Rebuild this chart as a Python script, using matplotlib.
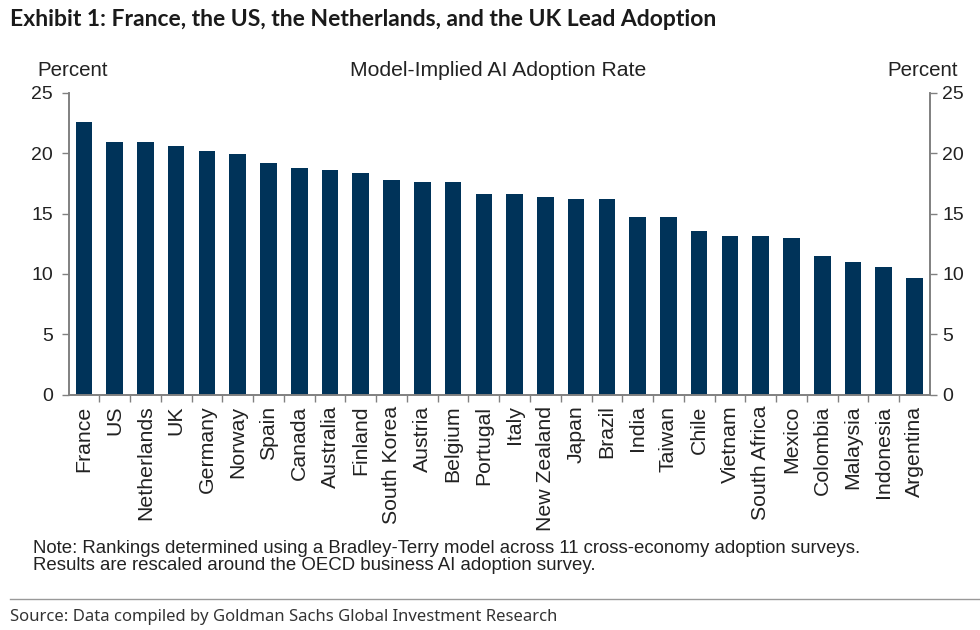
import matplotlib
matplotlib.use('Agg')
import matplotlib.pyplot as plt
import numpy as np

# Model-implied AI adoption rate (percent)
countries = ['France', 'US', 'Netherlands', 'UK', 'Germany', 'Norway', 'Spain',
             'Canada', 'Australia', 'Finland', 'South Korea', 'Austria', 'Belgium',
             'Portugal', 'Italy', 'New Zealand', 'Japan', 'Brazil', 'India', 'Taiwan',
             'Chile', 'Vietnam', 'South Africa', 'Mexico', 'Colombia', 'Malaysia',
             'Indonesia', 'Argentina']
adoption = [22.6, 20.9, 20.9, 20.6, 20.2, 19.95, 19.2,
            18.8, 18.6, 18.35, 17.8, 17.65, 17.65,
            16.65, 16.65, 16.4, 16.25, 16.25, 14.7, 14.7,
            13.55, 13.15, 13.15, 13.0, 11.45, 11.0,
            10.6, 9.7]
y_ticks = [0, 5, 10, 15, 20, 25]

title = 'Exhibit 1: France, the US, the Netherlands, and the UK Lead Adoption'
chart_title = 'Model-Implied AI Adoption Rate'
note = ('Note: Rankings determined using a Bradley-Terry model across 11 cross-economy adoption surveys.\n'
        'Results are rescaled around the OECD business AI adoption survey.')
source = 'Source: Data compiled by Goldman Sachs Global Investment Research'

bar_color = '#003359'
axis_color = '#808080'
text_color = '#222222'
chart_font = 'Liberation Sans'
title_font = 'Lato'
source_font = 'Noto Sans'

fig = plt.figure(figsize=(9.8, 6.3), dpi=100)
ax = fig.add_axes([0.0699, 0.3738, 0.879, 0.4786])

x = np.arange(len(countries))
ax.bar(x, adoption, width=0.54, color=bar_color, edgecolor='none')

ax.set_xlim(-0.5, len(countries) - 0.5)
ax.set_ylim(0, 25)
ax.set_yticks(y_ticks)
ax.set_yticklabels([str(t) for t in y_ticks], family=chart_font, fontsize=14, color=text_color)

# country labels at bar centres, tick marks at category boundaries
ax.set_xticks(x)
ax.set_xticklabels(countries, rotation=90, family=chart_font, fontsize=15.3, color=text_color)
ax.set_xticks(x[1:] - 0.5, minor=True)
ax.tick_params(axis='x', which='major', length=0, pad=8)
ax.tick_params(axis='x', which='minor', length=5, width=1, color=axis_color, direction='out')
ax.tick_params(axis='y', length=5, width=1, color=axis_color, direction='out', pad=6)

for side in ['left', 'bottom', 'right']:
    ax.spines[side].set_color(axis_color)
    ax.spines[side].set_linewidth(1.2)
ax.spines['top'].set_visible(False)

ax2 = ax.twinx()
ax2.set_ylim(0, 25)
ax2.set_yticks(y_ticks)
ax2.set_yticklabels([str(t) for t in y_ticks], family=chart_font, fontsize=14, color=text_color)
ax2.tick_params(axis='y', length=5, width=1, color=axis_color, direction='out', pad=4)
for side in ['left', 'bottom', 'right']:
    ax2.spines[side].set_color(axis_color)
    ax2.spines[side].set_linewidth(1.2)
ax2.spines['top'].set_visible(False)

# header texts
fig.text(10 / 980, 1 - 20 / 630, title, family=title_font, fontweight='bold',
         fontsize=16.5, color='#1a1a1a', ha='left', va='center')
fig.text(37 / 980, 1 - 71 / 630, 'Percent', family=chart_font, fontsize=14.8,
         color=text_color, ha='left', va='center')
fig.text(958 / 980, 1 - 71 / 630, 'Percent', family=chart_font, fontsize=14.8,
         color=text_color, ha='right', va='center')
fig.text(498 / 980, 1 - 71 / 630, chart_title, family=chart_font, fontsize=15.2,
         color=text_color, ha='center', va='center')

# footer
fig.text(33 / 980, 1 - 557 / 630, note, family=chart_font, fontsize=13.4,
         color=text_color, ha='left', va='center', linespacing=1.0)
fig.add_artist(plt.Line2D([10 / 980, 1.0], [1 - 599 / 630, 1 - 599 / 630],
                          transform=fig.transFigure, color='#999999', linewidth=1))
fig.text(10 / 980, 1 - 617 / 630, source, family=source_font, fontsize=12,
         color='#333333', ha='left', va='center')

fig.savefig('out.png', dpi=100)
